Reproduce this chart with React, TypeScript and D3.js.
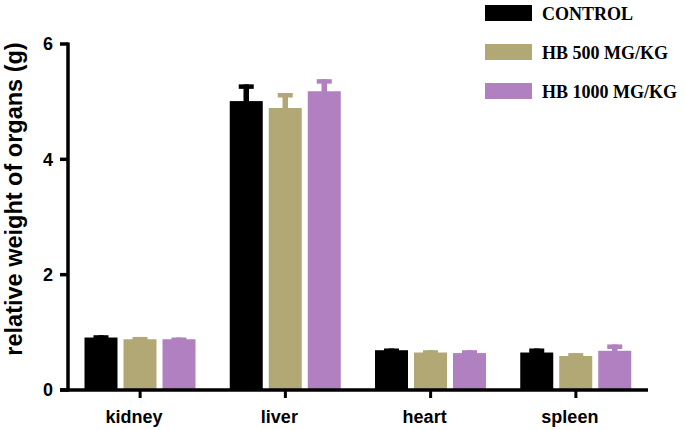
import React from "react";
import * as d3 from "d3";

const categories = ["kidney", "liver", "heart", "spleen"];
const seriesNames = ["CONTROL", "HB 500 MG/KG", "HB 1000 MG/KG"];
const seriesColors = ["#000000", "#b2a876", "#b080c0"];
const controlMeans = [0.91, 5.01, 0.69, 0.65];
const controlErr = [0.04, 0.29, 0.03, 0.07];
const hb500Means = [0.88, 4.89, 0.65, 0.59];
const hb500Err = [0.04, 0.26, 0.04, 0.05];
const hb1000Means = [0.88, 5.18, 0.64, 0.68];
const hb1000Err = [0.03, 0.21, 0.05, 0.11];
const yTicks = [0, 2, 4, 6];

const means = [controlMeans, hb500Means, hb1000Means];
const errs = [controlErr, hb500Err, hb1000Err];

export default function App() {
  const W = 685;
  const H = 430;
  const x0 = d3.scaleBand<string>().domain(categories).range([67.5, 648.5]).padding(0);
  const x1 = d3
    .scaleBand<string>()
    .domain(seriesNames)
    .range([17, 128])
    .paddingInner(0.154)
    .paddingOuter(0);
  const y = d3.scaleLinear().domain([0, 6]).range([390, 44]);
  const axisX = 68;
  const axisY = 390;
  const sans = "'Liberation Sans', Arial, Helvetica, sans-serif";
  const serif = "'Liberation Serif', 'Times New Roman', serif";

  return (
    <svg
      width={W}
      height={H}
      style={{ position: "absolute", left: 0, top: 0, background: "#fff" }}
    >
      {/* bars and error bars */}
      {seriesNames.map((s, si) =>
        categories.map((c, ci) => {
          const bx = (x0(c) as number) + (x1(s) as number);
          const bw = x1.bandwidth();
          const v = means[si][ci];
          const e = errs[si][ci];
          const cx = bx + bw / 2;
          const top = y(v);
          const et = y(v + e);
          return (
            <g key={s + c}>
              <rect x={bx} y={top} width={bw} height={axisY - top} fill={seriesColors[si]} />
              <rect x={cx - 2.75} y={et} width={5.5} height={top - et + 1} fill={seriesColors[si]} />
              <rect x={cx - 7.5} y={et} width={15} height={4.5} fill={seriesColors[si]} />
            </g>
          );
        })
      )}

      {/* y axis */}
      <line x1={axisX} x2={axisX} y1={y(6) - 1.5} y2={axisY + 1.5} stroke="#000" strokeWidth={3.5} />
      {yTicks.map((t) => (
        <g key={t}>
          <line x1={axisX - 8} x2={axisX} y1={y(t)} y2={y(t)} stroke="#000" strokeWidth={3.5} />
          <text
            x={axisX - 15}
            y={y(t)}
            dy="0.36em"
            textAnchor="end"
            fontFamily={sans}
            fontWeight="bold"
            fontSize={18}
            fill="#000"
          >
            {t}
          </text>
        </g>
      ))}

      {/* x axis */}
      <line x1={axisX - 8} x2={648} y1={axisY} y2={axisY} stroke="#000" strokeWidth={3.5} />
      {categories.map((c) => {
        const cx = (x0(c) as number) + x0.bandwidth() / 2;
        return (
          <g key={c}>
            <line x1={cx} x2={cx} y1={axisY} y2={axisY + 8} stroke="#000" strokeWidth={3} />
            <text
              x={cx - 6}
              y={423}
              textAnchor="middle"
              fontFamily={sans}
              fontWeight="bold"
              fontSize={18}
              fill="#000"
            >
              {c}
            </text>
          </g>
        );
      })}

      {/* y axis title */}
      <text
        transform={`translate(22, ${(y(6) + axisY) / 2 - 18}) rotate(-90)`}
        textAnchor="middle"
        fontFamily={sans}
        fontWeight="bold"
        fontSize={23.5}
        fill="#000"
      >
        relative weight of organs (g)
      </text>

      {/* legend */}
      {seriesNames.map((s, i) => (
        <g key={s} transform={`translate(485, ${5 + i * 39})`}>
          <rect x={0} y={0} width={47} height={16} fill={seriesColors[i]} />
          <text
            x={57}
            y={15}
            fontFamily={serif}
            fontWeight="bold"
            fontSize={18}
            fill="#000"
          >
            {s}
          </text>
        </g>
      ))}
    </svg>
  );
}
